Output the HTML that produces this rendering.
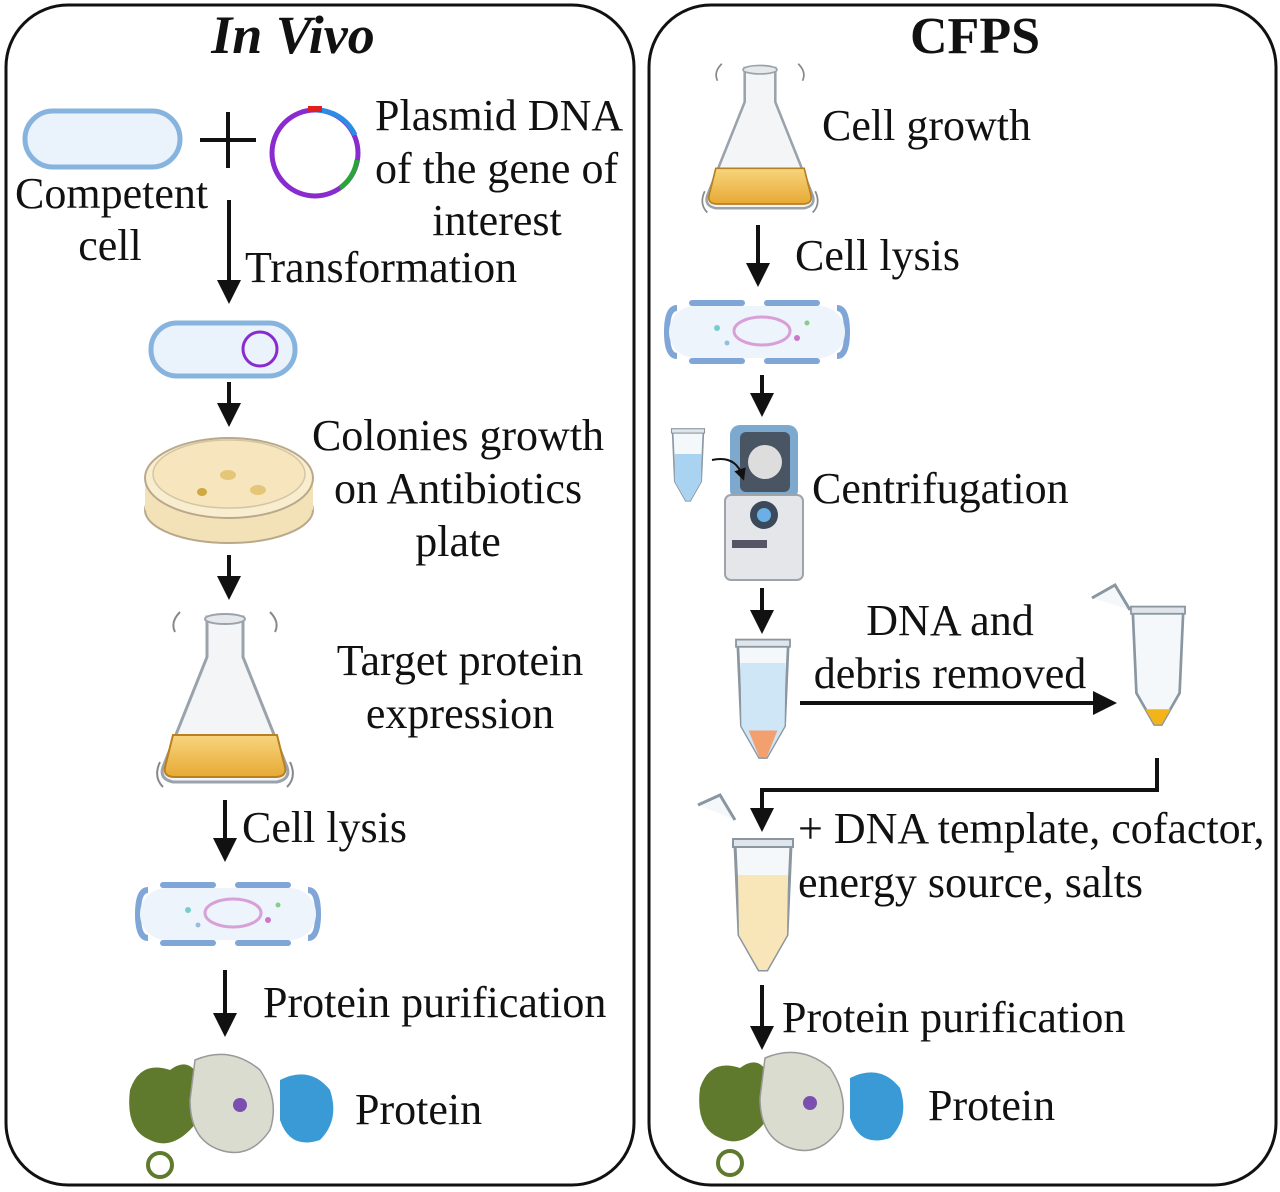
<!DOCTYPE html>
<html><head><meta charset="utf-8"><style>
html,body{margin:0;padding:0;background:#fff;}
svg{display:block;}
text{font-family:"Liberation Serif",serif;font-size:44px;fill:#111;}
</style></head><body>
<svg width="1280" height="1192" viewBox="0 0 1280 1192" xmlns="http://www.w3.org/2000/svg">
<defs>
<marker id="ah" markerWidth="6" markerHeight="6" refX="3" refY="3" orient="auto" markerUnits="strokeWidth"><path d="M0,0 L6,3 L0,6 Z" fill="#111"/></marker>
<linearGradient id="liq" x1="0" y1="0" x2="0" y2="1"><stop offset="0" stop-color="#f7d57e"/><stop offset="1" stop-color="#e7a934"/></linearGradient>
<g id="flask">
 <path d="M-18,0 L18,0 L18,40 L62,150 Q66,162 52,165 L-52,165 Q-66,162 -62,150 L-18,40 Z" fill="#f3f5f7" stroke="#9aa3ab" stroke-width="3"/>
 <path d="M-52,118 L52,118 L60,150 Q62,160 50,160 L-50,160 Q-62,160 -60,150 Z" fill="url(#liq)" stroke="#b88020" stroke-width="2"/>
 <ellipse cx="0" cy="2" rx="20" ry="5" fill="#e6e9ec" stroke="#9aa3ab" stroke-width="2"/>
 <path d="M-45,-5 Q-55,5 -50,15 M45,-5 Q55,5 50,15 M-65,145 Q-72,160 -62,170 M65,145 Q72,160 62,170" stroke="#888" stroke-width="2" fill="none"/>
</g>
<g id="lysed">
 <path d="M10,10 Q0,10 0,34 Q0,58 10,58" stroke="#7fa6d6" stroke-width="6" fill="none"/>
 <path d="M170,10 Q180,10 180,34 Q180,58 170,58" stroke="#7fa6d6" stroke-width="6" fill="none"/>
 <rect x="2" y="8" width="176" height="52" rx="26" fill="#eef4fb"/>
 <line x1="25" y1="5" x2="75" y2="5" stroke="#7fa6d6" stroke-width="6" stroke-linecap="round"/>
 <line x1="100" y1="5" x2="150" y2="5" stroke="#7fa6d6" stroke-width="6" stroke-linecap="round"/>
 <line x1="25" y1="63" x2="75" y2="63" stroke="#7fa6d6" stroke-width="6" stroke-linecap="round"/>
 <line x1="100" y1="63" x2="150" y2="63" stroke="#7fa6d6" stroke-width="6" stroke-linecap="round"/>
 <ellipse cx="95" cy="33" rx="28" ry="14" fill="none" stroke="#d8a0d8" stroke-width="3"/>
 <circle cx="50" cy="30" r="3" fill="#7cc"/><circle cx="130" cy="40" r="3" fill="#c7c"/><circle cx="60" cy="45" r="2.5" fill="#9bd"/><circle cx="140" cy="25" r="2.5" fill="#8c8"/>
</g>
<g id="prot">
 <path d="M0,40 Q10,10 40,20 Q60,5 70,30 Q80,60 60,80 Q40,100 20,90 Q-5,80 0,40Z" fill="#5f7a2c"/>
 <path d="M65,10 Q100,-5 130,20 Q150,50 140,80 Q120,110 90,100 Q60,90 60,50Z" fill="#d9dccf" stroke="#999" stroke-width="1.5"/>
 <path d="M150,30 Q180,15 200,40 Q210,70 190,90 Q160,100 150,70Z" fill="#3a9ad6"/>
 <circle cx="110" cy="55" r="7" fill="#7b4fb0"/><circle cx="30" cy="115" r="12" fill="none" stroke="#5f7a2c" stroke-width="4"/>
</g>
<g id="tube">
 <path d="M-28,0 L28,0 L24,90 L4,125 L-4,125 L-24,90 Z" fill="#f5f8fb" stroke="#8a96a0" stroke-width="3"/>
 <rect x="-30" y="-6" width="60" height="8" fill="#dfe5ea" stroke="#8a96a0" stroke-width="2"/>
</g>
</defs>

<rect x="6" y="5" width="628" height="1180" rx="62" fill="none" stroke="#111" stroke-width="3"/>
<rect x="649" y="5" width="627" height="1180" rx="62" fill="none" stroke="#111" stroke-width="3"/>
<text x="293" y="53" text-anchor="middle" style="font-size:54px;font-weight:bold;font-style:italic">In Vivo</text>
<text x="975" y="53" text-anchor="middle" style="font-size:52px;font-weight:bold">CFPS</text>

<rect x="25" y="111" width="155" height="56" rx="28" fill="#eaf3fb" stroke="#86b4de" stroke-width="5"/>
<line x1="200" y1="140" x2="256" y2="140" stroke="#111" stroke-width="4"/>
<line x1="228" y1="112" x2="228" y2="168" stroke="#111" stroke-width="4"/>
<circle cx="315" cy="153" r="43" fill="none" stroke="#8a2bd0" stroke-width="5"/>
<path d="M315,110 A43,43 0 0 1 355,135" fill="none" stroke="#2a8ee6" stroke-width="5"/>
<path d="M357,160 A43,43 0 0 1 340,188" fill="none" stroke="#2aa43a" stroke-width="5"/>
<rect x="308" y="106" width="14" height="6" fill="#e02020"/>
<text x="375" y="130">Plasmid DNA</text>
<text x="375" y="183">of the gene of</text>
<text x="497" y="235" text-anchor="middle">interest</text>
<text x="15" y="208">Competent</text>
<text x="110" y="260" text-anchor="middle">cell</text>
<line x1="229" y1="200" x2="229" y2="292" stroke="#111" stroke-width="4" marker-end="url(#ah)"/>
<text x="245" y="282">Transformation</text>

<rect x="151" y="323" width="144" height="53" rx="26" fill="#eaf3fb" stroke="#86b4de" stroke-width="5"/>
<circle cx="260" cy="349" r="17" fill="none" stroke="#8a2bd0" stroke-width="3"/>
<line x1="229" y1="382" x2="229" y2="415" stroke="#111" stroke-width="4" marker-end="url(#ah)"/>

<ellipse cx="229" cy="510" rx="84" ry="33" fill="#f3e2b8" stroke="#b9a98a" stroke-width="2"/>
<rect x="145" y="478" width="168" height="32" fill="#f3e2b8"/>
<ellipse cx="229" cy="478" rx="84" ry="40" fill="#f8edcf" stroke="#b9a98a" stroke-width="2"/>
<ellipse cx="229" cy="474" rx="76" ry="34" fill="#f7e6bd" stroke="#d4c6a4" stroke-width="1.5"/>
<ellipse cx="228" cy="475" rx="8" ry="5" fill="#e3c677"/><ellipse cx="258" cy="490" rx="8" ry="5" fill="#e3c677"/><ellipse cx="202" cy="492" rx="5" ry="4" fill="#cfa840"/>
<text x="458" y="450" text-anchor="middle">Colonies growth</text>
<text x="458" y="503" text-anchor="middle">on Antibiotics</text>
<text x="458" y="556" text-anchor="middle">plate</text>
<line x1="229" y1="555" x2="229" y2="588" stroke="#111" stroke-width="4" marker-end="url(#ah)"/>

<use href="#flask" x="225" y="617"/>
<text x="460" y="675" text-anchor="middle">Target protein</text>
<text x="460" y="728" text-anchor="middle">expression</text>
<line x1="225" y1="800" x2="225" y2="850" stroke="#111" stroke-width="4" marker-end="url(#ah)"/>
<text x="242" y="842">Cell lysis</text>
<use href="#lysed" x="138" y="880"/>
<line x1="225" y1="970" x2="225" y2="1025" stroke="#111" stroke-width="4" marker-end="url(#ah)"/>
<text x="263" y="1017">Protein purification</text>
<use href="#prot" x="130" y="1050"/>
<text x="355" y="1124">Protein</text>

<use href="#flask" x="760" y="68" transform="translate(760,68) scale(0.85) translate(-760,-68)"/>
<text x="822" y="140">Cell growth</text>
<line x1="758" y1="225" x2="758" y2="275" stroke="#111" stroke-width="4" marker-end="url(#ah)"/>
<text x="795" y="270">Cell lysis</text>
<use href="#lysed" x="667" y="298"/>
<line x1="762" y1="375" x2="762" y2="405" stroke="#111" stroke-width="4" marker-end="url(#ah)"/>

<g transform="translate(688,432) scale(0.55)"><use href="#tube"/><path d="M-24,40 L24,40 L24,90 L4,125 L-4,125 L-24,90Z" fill="#a9d3f0"/></g>
<rect x="730" y="425" width="68" height="75" rx="10" fill="#7da9cf"/>
<rect x="740" y="432" width="50" height="60" rx="6" fill="#4a5563"/>
<circle cx="765" cy="462" r="17" fill="#ddd"/>
<rect x="725" y="495" width="78" height="85" rx="6" fill="#e4e6e9" stroke="#9ea4ab" stroke-width="2"/>
<circle cx="764" cy="515" r="14" fill="#3b4a5a"/><circle cx="764" cy="515" r="7" fill="#6ab0e6"/>
<rect x="732" y="540" width="35" height="8" fill="#556"/>
<path d="M712,460 Q735,455 742,475" stroke="#111" stroke-width="2" fill="none" marker-end="url(#ah)"/>
<text x="812" y="503">Centrifugation</text>
<line x1="762" y1="588" x2="762" y2="622" stroke="#111" stroke-width="4" marker-end="url(#ah)"/>

<g transform="translate(763,645) scale(0.9)"><use href="#tube"/><path d="M-25,20 L25,20 L24,90 L4,125 L-4,125 L-24,90Z" fill="#cfe6f7"/><path d="M-16,95 L16,95 L4,125 L-4,125Z" fill="#f2a070"/></g>
<line x1="800" y1="703" x2="1105" y2="703" stroke="#111" stroke-width="4" marker-end="url(#ah)"/>
<text x="950" y="635" text-anchor="middle">DNA and</text>
<text x="950" y="688" text-anchor="middle">debris removed</text>
<g transform="translate(1158,612) scale(0.9)"><use href="#tube"/><path d="M-14,108 L14,108 L4,125 L-4,125Z" fill="#f3b41a"/></g>
<path d="M1092,598 L1115,585 L1130,610" fill="#f5f8fb" stroke="#8a96a0" stroke-width="3"/>
<polyline points="1157,758 1157,790 762,790 762,820" fill="none" stroke="#111" stroke-width="4" marker-end="url(#ah)"/>
<g transform="translate(763,845)"><use href="#tube"/><path d="M-25,30 L25,30 L24,90 L4,125 L-4,125 L-24,90Z" fill="#f8e6b8"/></g>
<path d="M698,805 L720,795 L735,820" fill="#f5f8fb" stroke="#8a96a0" stroke-width="3"/>
<text x="798" y="843">+ DNA template, cofactor,</text>
<text x="798" y="897">energy source, salts</text>
<line x1="762" y1="985" x2="762" y2="1038" stroke="#111" stroke-width="4" marker-end="url(#ah)"/>
<text x="782" y="1032">Protein purification</text>
<use href="#prot" x="700" y="1048"/>
<text x="928" y="1120">Protein</text>
</svg>
</body></html>
